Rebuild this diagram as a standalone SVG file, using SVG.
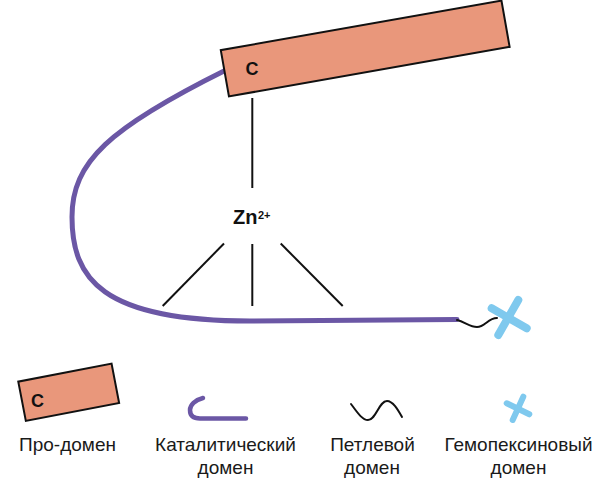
<svg xmlns="http://www.w3.org/2000/svg" width="600" height="481" viewBox="0 0 600 481">
<style>
.pro{fill:#e9977b;stroke:#111;stroke-width:2}
.cat{fill:none;stroke:#6b57a5;stroke-linecap:round}
.loop{fill:none;stroke:#111;stroke-width:2;stroke-linecap:round}
.hemo{fill:none;stroke:#7fc9ee;stroke-linecap:round}
.bond{stroke:#111;stroke-width:2}
.lbl{font-family:"Liberation Sans",Arial,sans-serif;font-size:19px;fill:#1a1a1a;text-anchor:middle}
.c{font-family:"Liberation Sans",Arial,sans-serif;font-size:18px;font-weight:bold;fill:#111;text-anchor:middle}
.zn{font-family:"Liberation Sans",Arial,sans-serif;font-weight:bold;fill:#111}
</style>
<rect width="600" height="481" fill="#fff"/>
<g id="connectors">
<line class="bond" x1="252.3" y1="98" x2="252.3" y2="188"/>
<line class="bond" x1="224" y1="243.5" x2="162.7" y2="306"/>
<line class="bond" x1="252.3" y1="244" x2="252.3" y2="306"/>
<line class="bond" x1="280.7" y1="243.5" x2="342.7" y2="306"/>
</g>
<g id="catalytic-domain">
<path class="cat" stroke-width="5" d="M 226 70 C 109 128, 72 162, 72 217 C 72 278, 101 321, 250 321 L 457 319.5"/>
</g>
<g id="pro-domain">
<rect class="pro" x="-142.5" y="-23.5" width="285" height="47" transform="translate(365.2 48.5) rotate(-10)"/>
<text class="c" x="252" y="75">C</text>
</g>
<g id="zinc">
<text class="zn" x="233" y="224" font-size="20">Zn</text>
<text class="zn" x="258" y="219" font-size="11">2+</text>
</g>
<g id="loop-domain">
<path class="loop" d="M 457 320 C 465 322, 470 327, 477 327 C 485 327, 488 318, 497 318"/>
</g>
<g id="hemopexin-domain">
<line class="hemo" stroke-width="8" x1="491.7" y1="308.3" x2="526.7" y2="328.3"/>
<line class="hemo" stroke-width="8" x1="518.3" y1="300" x2="498.3" y2="335"/>
</g>
<g id="legend-pro">
<rect class="pro" x="-47.5" y="-20" width="95" height="40" transform="translate(68.7 392.3) rotate(-10.9)"/>
<text class="c" x="37.5" y="407">C</text>
<text class="lbl" x="67.5" y="451">Про-домен</text>
</g>
<g id="legend-catalytic">
<path class="cat" stroke-width="4.5" d="M 203 398 C 195 400, 190 405, 190 410 C 190 416, 194 418.5, 200 418.5 L 246 418.5"/>
<text class="lbl" x="225.5" y="451">Каталитический</text>
<text class="lbl" x="225.5" y="474">домен</text>
</g>
<g id="legend-loop">
<path class="loop" d="M 351 404 C 357 412, 362 420, 368 420 C 376 420, 379 401, 387 401 C 393 401, 398 410, 402 417"/>
<text class="lbl" x="372.5" y="451">Петлевой</text>
<text class="lbl" x="372" y="474">домен</text>
</g>
<g id="legend-hemopexin">
<line class="hemo" stroke-width="6" x1="506.7" y1="403.3" x2="529.3" y2="414.3"/>
<line class="hemo" stroke-width="6" x1="523.3" y1="396.7" x2="512.7" y2="420"/>
<text class="lbl" x="518.5" y="451">Гемопексиновый</text>
<text class="lbl" x="518.5" y="474">домен</text>
</g>
</svg>
